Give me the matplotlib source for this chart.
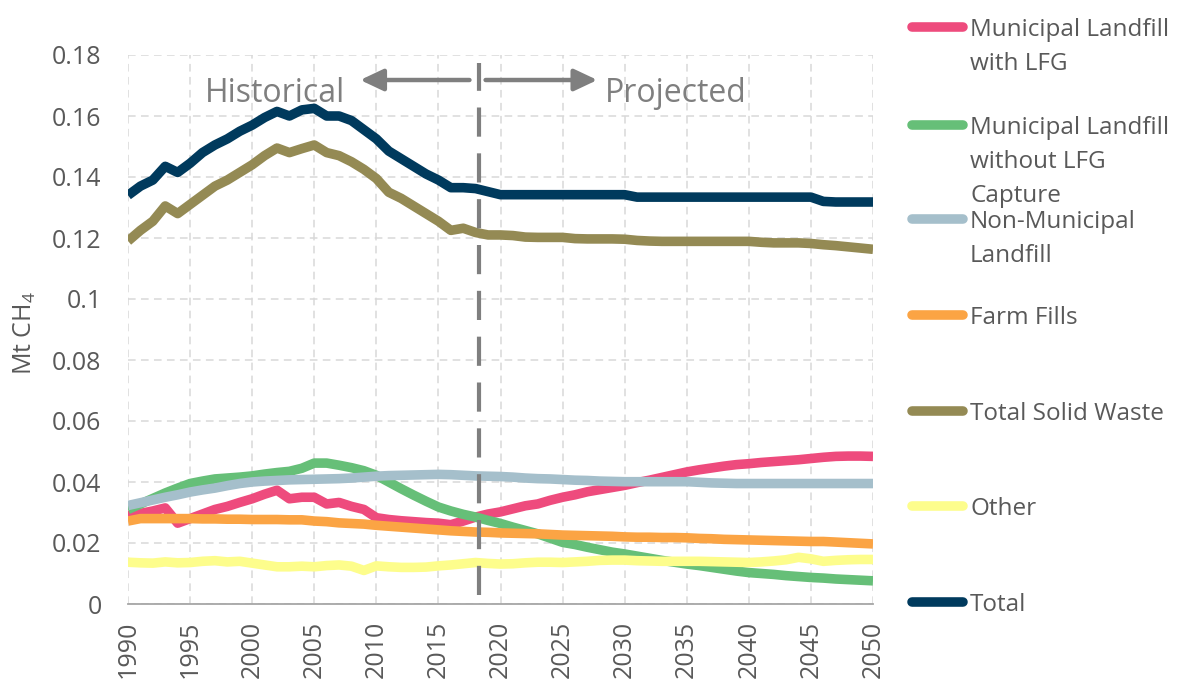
import matplotlib
matplotlib.use("Agg")
import matplotlib.pyplot as plt
import numpy as np

plt.rcParams['font.family'] = ['Open Sans', 'DejaVu Sans']
plt.rcParams['mathtext.default'] = 'regular'

# ---- data (Mt CH4 per year) ----
years = list(range(1990, 2051))

muni_lfg = [
    0.0290, 0.0297, 0.0305, 0.0315, 0.0265, 0.0280, 0.0295, 0.0310, 0.0320, 0.0333,
    0.0345, 0.0360, 0.0373, 0.0345, 0.0350, 0.0350, 0.0328, 0.0333, 0.0320, 0.0310,
    0.0283, 0.0277, 0.0273, 0.0270, 0.0267, 0.0265, 0.0260, 0.0272, 0.0285, 0.0295,
    0.0302, 0.0312, 0.0322, 0.0328, 0.0340, 0.0350, 0.0358, 0.0368, 0.0375, 0.0382,
    0.0389, 0.0398, 0.0406, 0.0415, 0.0424, 0.0433, 0.0440, 0.0446, 0.0452, 0.0457,
    0.0460, 0.0464, 0.0467, 0.0470, 0.0473, 0.0477, 0.0481, 0.0484, 0.0485, 0.0485,
    0.0484,
]
muni_no_lfg = [
    0.0310, 0.0328, 0.0346, 0.0364, 0.0380, 0.0395, 0.0403, 0.0410, 0.0413, 0.0416,
    0.0420, 0.0426, 0.0431, 0.0435, 0.0445, 0.0462, 0.0462, 0.0455, 0.0447, 0.0437,
    0.0422, 0.0400, 0.0378, 0.0357, 0.0337, 0.0318, 0.0305, 0.0294, 0.0285, 0.0274,
    0.0264, 0.0252, 0.0241, 0.0230, 0.0216, 0.0202, 0.0195, 0.0186, 0.0178, 0.0170,
    0.0164, 0.0157, 0.0150, 0.0143, 0.0137, 0.0131, 0.0126, 0.0120, 0.0114, 0.0108,
    0.0103, 0.0100, 0.0097, 0.0093, 0.0090, 0.0087, 0.0085, 0.0082, 0.0080, 0.0078,
    0.0076,
]
non_muni = [
    0.0323, 0.0332, 0.0341, 0.0350, 0.0358, 0.0367, 0.0374, 0.0380, 0.0388, 0.0395,
    0.0400, 0.0403, 0.0405, 0.0407, 0.0408, 0.0409, 0.0410, 0.0411, 0.0413, 0.0416,
    0.0419, 0.0421, 0.0422, 0.0423, 0.0424, 0.0425, 0.0424, 0.0422, 0.0420, 0.0419,
    0.0418, 0.0416, 0.0413, 0.0411, 0.0410, 0.0408, 0.0406, 0.0405, 0.0403, 0.0402,
    0.0401, 0.0401, 0.0401, 0.0401, 0.0401, 0.0401, 0.0399, 0.0397, 0.0396, 0.0395,
    0.0395, 0.0395, 0.0395, 0.0395, 0.0395, 0.0395, 0.0395, 0.0395, 0.0395, 0.0395,
    0.0395,
]
farm_fills = [
    0.0272, 0.0280, 0.0280, 0.0280, 0.0280, 0.0280, 0.0279, 0.0279, 0.0278, 0.0278,
    0.0277, 0.0277, 0.0277, 0.0276, 0.0276, 0.0272, 0.0270, 0.0266, 0.0264, 0.0262,
    0.0258, 0.0255, 0.0252, 0.0249, 0.0246, 0.0243, 0.0240, 0.0238, 0.0236, 0.0235,
    0.0233, 0.0232, 0.0231, 0.0230, 0.0228, 0.0226, 0.0225, 0.0224, 0.0223, 0.0222,
    0.0220, 0.0219, 0.0219, 0.0218, 0.0218, 0.0217, 0.0215, 0.0214, 0.0212, 0.0211,
    0.0210, 0.0209, 0.0208, 0.0207, 0.0206, 0.0205, 0.0205, 0.0203, 0.0201, 0.0199,
    0.0197,
]
total_solid = [
    0.1190, 0.1225, 0.1255, 0.1305, 0.1280, 0.1310, 0.1340, 0.1370, 0.1390, 0.1415,
    0.1440, 0.1470, 0.1495, 0.1480, 0.1493, 0.1505, 0.1480, 0.1470, 0.1450, 0.1425,
    0.1395, 0.1350, 0.1330, 0.1305, 0.1280, 0.1255, 0.1225, 0.1232, 0.1218, 0.1210,
    0.1210, 0.1208, 0.1203, 0.1202, 0.1202, 0.1202, 0.1198, 0.1197, 0.1197, 0.1197,
    0.1196, 0.1192, 0.1190, 0.1189, 0.1189, 0.1189, 0.1189, 0.1189, 0.1189, 0.1189,
    0.1189, 0.1186, 0.1184, 0.1184, 0.1184, 0.1182, 0.1178, 0.1175, 0.1171, 0.1167,
    0.1163,
]
other = [
    0.0137, 0.0135, 0.0134, 0.0138, 0.0135, 0.0136, 0.0140, 0.0142, 0.0138, 0.0140,
    0.0134, 0.0128, 0.0122, 0.0122, 0.0124, 0.0122, 0.0126, 0.0128, 0.0124, 0.0110,
    0.0125, 0.0122, 0.0120, 0.0120, 0.0121, 0.0125, 0.0128, 0.0132, 0.0136, 0.0133,
    0.0131, 0.0132, 0.0135, 0.0137, 0.0137, 0.0136, 0.0138, 0.0140, 0.0143, 0.0144,
    0.0144, 0.0142, 0.0141, 0.0140, 0.0140, 0.0140, 0.0140, 0.0139, 0.0138, 0.0137,
    0.0136, 0.0138, 0.0141, 0.0145, 0.0153, 0.0148, 0.0140, 0.0143, 0.0145, 0.0146,
    0.0146,
]
total = [
    0.1340, 0.1370, 0.1390, 0.1435, 0.1415, 0.1445, 0.1480, 0.1505, 0.1525, 0.1550,
    0.1570, 0.1595, 0.1615, 0.1600, 0.1620, 0.1625, 0.1600, 0.1600, 0.1585, 0.1555,
    0.1525, 0.1485, 0.1460, 0.1435, 0.1410, 0.1390, 0.1365, 0.1365, 0.1362, 0.1352,
    0.1342, 0.1342, 0.1342, 0.1342, 0.1342, 0.1342, 0.1342, 0.1342, 0.1342, 0.1342,
    0.1342, 0.1334, 0.1334, 0.1334, 0.1334, 0.1334, 0.1334, 0.1334, 0.1334, 0.1334,
    0.1334, 0.1334, 0.1334, 0.1334, 0.1334, 0.1334, 0.1320, 0.1318, 0.1318, 0.1318,
    0.1318,
]

series_labels = [
    "Municipal Landfill\nwith LFG",
    "Municipal Landfill\nwithout LFG\nCapture",
    "Non-Municipal\nLandfill",
    "Farm Fills",
    "Total Solid Waste",
    "Other",
    "Total",
]
series_values = [muni_lfg, muni_no_lfg, non_muni, farm_fills, total_solid, other, total]
series_colors = ['#EE4B7D', '#66BF78', '#A5BFCB', '#FBA444', '#948A54', '#FDFD8C', '#003A5D']

x_ticks = list(range(1990, 2051, 5))
y_ticks = [0, 0.02, 0.04, 0.06, 0.08, 0.1, 0.12, 0.14, 0.16, 0.18]
y_tick_labels = ['0', '0.02', '0.04', '0.06', '0.08', '0.1', '0.12', '0.14', '0.16', '0.18']
split_year = 2018.3

# ---- layout (pixel based, figure is 1183x681) ----
W, H = 1183, 681
fig = plt.figure(figsize=(W / 100, H / 100), dpi=100)
ax = fig.add_axes([128 / W, 1 - 604 / H, (873 - 128) / W, (604 - 55) / H])

text_grey = '#595959'
anno_grey = '#7F7F7F'

for vals, col in zip(series_values, series_colors):
    ax.plot(years, vals, color=col, lw=6.9, solid_joinstyle='round',
            solid_capstyle='butt', zorder=3)

ax.set_xlim(1990, 2050)
ax.set_ylim(0, 0.18)
ax.set_xticks(x_ticks)
ax.set_xticklabels([str(y) for y in x_ticks], rotation=90, fontsize=18,
                   color=text_grey)
ax.set_yticks(y_ticks)
ax.set_yticklabels(y_tick_labels, fontsize=18, color=text_grey)
ax.tick_params(axis='both', length=0)
ax.tick_params(axis='x', pad=12)
ax.tick_params(axis='y', pad=19)
for lbl in ax.get_xticklabels():
    lbl.set_va('top')

ax.grid(True, color='#D9D9D9', lw=1.1, linestyle=(0, (5, 3.5)), zorder=0)
for s in ['top', 'right', 'left']:
    ax.spines[s].set_visible(False)
ax.spines['bottom'].set_color('#A6A6A6')
ax.spines['bottom'].set_linewidth(1.3)

# historical / projected divider
ax.axvline(split_year, ymin=0.016, ymax=0.985, color=anno_grey, lw=3,
           linestyle=(0, (7, 4)), zorder=4)
arrow_y = 0.1718
arrow_style = '-|>,head_length=0.7,head_width=0.33'
ax.annotate('', xy=(2008.7, arrow_y), xytext=(split_year - 0.8, arrow_y),
            arrowprops=dict(arrowstyle=arrow_style, color=anno_grey, lw=3.2,
                            mutation_scale=20, shrinkA=0, shrinkB=0), zorder=5)
ax.annotate('', xy=(2027.8, arrow_y), xytext=(split_year + 0.5, arrow_y),
            arrowprops=dict(arrowstyle=arrow_style, color=anno_grey, lw=3.2,
                            mutation_scale=20, shrinkA=0, shrinkB=0), zorder=5)
ax.text(1996.2, 0.1675, 'Historical', fontsize=23, color=anno_grey,
        ha='left', va='center', zorder=5)
ax.text(2028.4, 0.1675, 'Projected', fontsize=23, color=anno_grey,
        ha='left', va='center', zorder=5)

fig.text(25 / W, 1 - 333 / H, 'Mt CH$_4$', rotation=90, fontsize=18,
         color=text_grey, ha='center', va='center')

# ---- legend drawn by hand to match Excel's layout ----
legend_rows_px = [27, 125, 219, 315, 411, 506, 602]
for label, col, ypx in zip(series_labels, series_colors, legend_rows_px):
    fig.add_artist(plt.Line2D([912 / W, 963 / W], [1 - ypx / H, 1 - ypx / H],
                              color=col, lw=6.9, solid_capstyle='round',
                              transform=fig.transFigure))
    for i, line in enumerate(label.split('\n')):
        base = ypx + 9 + i * 34
        fig.text(970 / W, 1 - base / H, line, fontsize=17.5, color=text_grey,
                 ha='left', va='baseline')

fig.savefig('out.png', dpi=100)
